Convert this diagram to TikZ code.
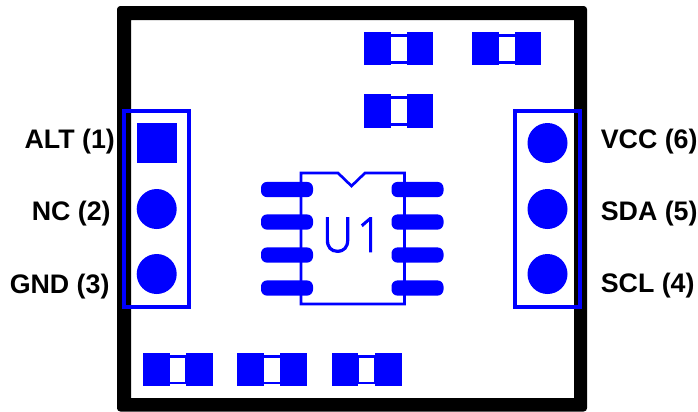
\documentclass[tikz,border=0pt]{standalone}
\usepackage{xcolor}
\usepackage{fontspec}
\setmainfont{Liberation Sans}
\newfontfamily\silkfont[FakeStretch=0.88, BoldFont={Open Sans Light}, BoldFeatures={FakeBold=2.2, FakeStretch=0.88}]{Open Sans Light}
\definecolor{padblue}{RGB}{0,0,255}
\tikzset{
    pad/.style={rectangle, fill=padblue, inner sep=0pt, minimum width=19.9pt, minimum height=25pt},
    bridge/.style={rectangle, draw=padblue, line width=2.2pt, inner sep=0pt, minimum width=14pt, minimum height=20.2pt},
    header/.style={rectangle, draw=padblue, line width=3pt, inner sep=0pt, minimum width=48.6pt, minimum height=147pt},
    hole/.style={circle, fill=padblue, inner sep=0pt, minimum size=30pt},
    lead/.style={rectangle, fill=padblue, rounded corners=4.5pt, inner sep=0pt, minimum width=39pt, minimum height=11.4pt},
    pinlabel/.style={font=\bfseries\fontsize{20.1}{22}\selectfont, inner sep=0pt, anchor=base west}
}
\begin{document}
\begin{tikzpicture}[x=0.75pt, y=-0.75pt]
        \useasboundingbox (0,0) rectangle (698,411);
        
        % Board outline
        \fill[even odd rule, rounded corners=2.5pt] (117,6) rectangle (587,411.5) [sharp corners] (131,20) rectangle (574,398);
        
        % Top capacitors
        \node[bridge] (capA) at (399,49) {};
        \node[pad] (capAl) at (377.7,48.7) {};
        \node[pad] (capAr) at (420,48.7) {};
        \node[bridge] (capB) at (507,49) {};
        \node[pad] (capBl) at (485.3,48.7) {};
        \node[pad] (capBr) at (528,48.7) {};
        \node[bridge] (capC) at (399,111) {};
        \node[pad] (capCl) at (377.7,111) {};
        \node[pad] (capCr) at (420,111) {};
        
        % Bottom capacitors
        \node[bridge] (capD) at (177.5,369.5) {};
        \node[pad] (capDl) at (156.7,369.5) {};
        \node[pad] (capDr) at (199.5,369.5) {};
        \node[bridge] (capE) at (272,369.5) {};
        \node[pad] (capEl) at (250.5,369.5) {};
        \node[pad] (capEr) at (293.5,369.5) {};
        \node[bridge] (capF) at (366.5,369.5) {};
        \node[pad] (capFl) at (345.2,369.5) {};
        \node[pad] (capFr) at (388.5,369.5) {};
        
        % Left header
        \node[header] (hdrL) at (156.3,209) {};
        \node[rectangle, fill=padblue, inner sep=0pt, minimum size=30pt] (pinA) at (156.7,143.3) {};
        \node[hole] (pinB) at (156.7,209) {};
        \node[hole] (pinC) at (156.7,274) {};
        
        % Right header
        \node[header] (hdrR) at (547.5,209) {};
        \node[hole] (pinD) at (547.5,143) {};
        \node[hole] (pinE) at (547.5,209) {};
        \node[hole] (pinF) at (547.5,274) {};
        
        % Chip body
        \draw[padblue, line width=2pt] (301,173) -- (338,173) -- (351.5,186) -- (365,173) -- (404.5,173) -- (404.5,304) -- (301,304) -- cycle;
        \node[text=padblue, inner sep=0pt, font=\silkfont\bfseries\fontsize{36}{36}\selectfont] (refU) at (352,235) {U\kern 0.1em 1};
        
        % Chip leads
        \node[lead] (leadA) at (287,189.5) {};
        \node[lead] (leadB) at (287,222) {};
        \node[lead] (leadC) at (287,255) {};
        \node[lead] (leadD) at (287,288) {};
        \node[lead] (leadE) at (417.5,189.5) {};
        \node[lead] (leadF) at (417.5,222) {};
        \node[lead] (leadG) at (417.5,255) {};
        \node[lead] (leadH) at (417.5,288) {};
        
        % Pin names
        \node[pinlabel] (altL) at (24.3,148) {ALT (1)};
        \node[pinlabel] (ncL) at (31.5,220) {NC (2)};
        \node[pinlabel] (gndL) at (9.5,293) {GND (3)};
        \node[pinlabel] (vccL) at (600.5,148) {VCC (6)};
        \node[pinlabel] (sdaL) at (600.5,220) {SDA (5)};
        \node[pinlabel] (sclL) at (600.5,292) {SCL (4)};
    \end{tikzpicture}
\end{document}
